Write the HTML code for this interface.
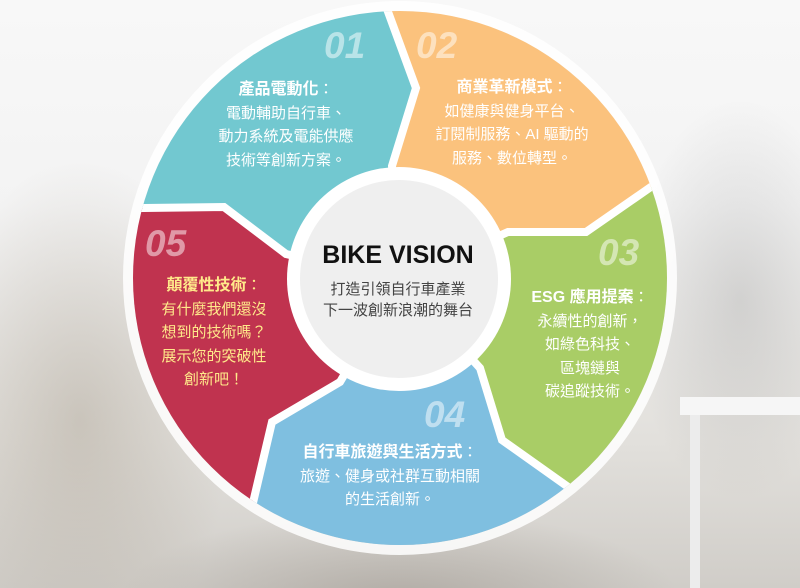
<!DOCTYPE html>
<html><head><meta charset="utf-8"><style>
html,body{margin:0;padding:0;overflow:hidden;width:800px;height:588px}
body{position:relative;font-family:"Liberation Sans","Noto Sans CJK TC",sans-serif}
.bg{position:absolute;left:0;top:0;width:800px;height:588px;background:
radial-gradient(ellipse 150px 260px at 80px 420px,rgba(170,160,145,.45),rgba(170,160,145,0)),
radial-gradient(ellipse 110px 200px at 740px 300px,rgba(130,130,130,.25),rgba(130,130,130,0)),
radial-gradient(ellipse 280px 90px at 400px 600px,rgba(120,110,100,.35),rgba(120,110,100,0)),
linear-gradient(180deg,#f8f8f8 0%,#f3f3f3 35%,#e2e0dc 75%,#d0cdc8 100%)}
.table{position:absolute;left:680px;top:397px;width:120px;height:18px;background:#f6f6f6}
.leg{position:absolute;left:690px;top:415px;width:10px;height:173px;background:#ececec}
svg{position:absolute;left:0;top:0}
.t{position:absolute;text-align:center;color:#fff;font-size:15px;line-height:23.5px;white-space:nowrap;transform:translateX(-50%)}
.t b{font-size:16px}
.n{position:absolute;font-size:37px;font-weight:bold;font-style:italic;color:rgba(255,255,255,.5);line-height:1}
</style></head><body>
<div class="bg"></div><div class="table"></div><div class="leg"></div>
<svg width="800" height="588" viewBox="0 0 800 588">
<defs><clipPath id="c"><circle cx="400" cy="278" r="267"/></clipPath></defs>
<circle cx="400" cy="278" r="272" fill="none" stroke="rgba(255,255,255,.85)" stroke-width="10"/>
<g clip-path="url(#c)">
<polygon fill="#72c8d0" points="400,280 286,254 224,207 60,209 60,-40 369,-40 388,12 416,88 392,166"/>
<polygon fill="#fbc27d" points="400,280 392,166 416,88 388,12 369,-40 760,-40 740,125 652,186 586,232 508,232"/>
<polygon fill="#a9cd66" points="400,280 508,232 586,232 652,186 740,125 800,125 800,600 640,538 568,487 502,440 480,368"/>
<polygon fill="#7fbfe0" points="400,280 480,368 502,440 568,487 640,538 640,620 200,620 236,575 253,503 272,422 340,382"/>
<polygon fill="#c0334f" points="400,280 340,382 272,422 253,503 236,575 60,575 60,209 135,208 224,207 286,254"/>
<g fill="none" stroke="#fff" stroke-width="8" stroke-linejoin="miter">
<polyline points="400,280 286,254 224,207 60,209"/>
<polyline points="400,280 392,166 416,88 369,-40"/>
<polyline points="400,280 508,232 586,232 740,125"/>
<polyline points="400,280 480,368 502,440 640,538"/>
<polyline points="400,280 340,382 272,422 236,575"/>
</g>
</g>
<circle cx="399" cy="279" r="112" fill="#fff"/>
<circle cx="399" cy="279" r="99" fill="#efefef"/>
</svg>
<div class="n" style="left:324px;top:27px">01</div>
<div class="n" style="left:416px;top:27px">02</div>
<div class="n" style="left:598px;top:234px">03</div>
<div class="n" style="left:424px;top:396px">04</div>
<div class="n" style="left:145px;top:225px">05</div>
<div class="t" style="left:286px;top:78px"><b>產品電動化</b>：<br>電動輔助自行車、<br>動力系統及電能供應<br>技術等創新方案。</div>
<div class="t" style="left:512px;top:76px"><b>商業革新模式</b>：<br>如健康與健身平台、<br>訂閱制服務、AI 驅動的<br>服務、數位轉型。</div>
<div class="t" style="left:590px;top:286px"><b>ESG 應用提案</b>：<br>永續性的創新，<br>如綠色科技、<br>區塊鏈與<br>碳追蹤技術。</div>
<div class="t" style="left:390px;top:441px"><b>自行車旅遊與生活方式</b>：<br>旅遊、健身或社群互動相關<br>的生活創新。</div>
<div class="t" style="left:214px;top:274px;color:#ffe98a"><b>顛覆性技術</b>：<br>有什麼我們還沒<br>想到的技術嗎？<br>展示您的突破性<br>創新吧！</div>
<div class="t" style="left:398px;top:240px;color:#111;font-size:25px;font-weight:bold;line-height:30px">BIKE VISION</div>
<div class="t" style="left:398px;top:279px;color:#444;font-size:15px;line-height:21px">打造引領自行車產業<br>下一波創新浪潮的舞台</div>
</body></html>
